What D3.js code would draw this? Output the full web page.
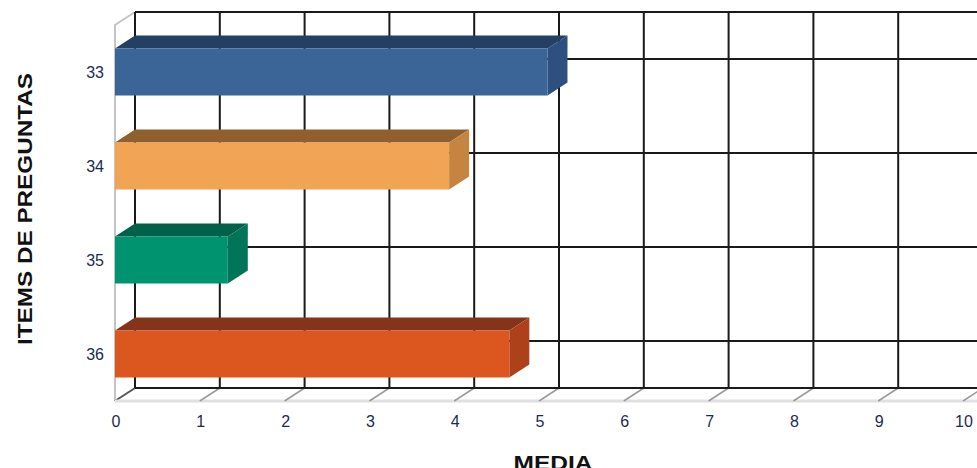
<!DOCTYPE html>
<html>
<head>
<meta charset="utf-8">
<script src="https://cdn.jsdelivr.net/npm/d3@7"></script>
<style>
body{margin:0;background:#fff;}
svg{display:block;}
text{font-family:Arial,"Liberation Sans",sans-serif;}
</style>
</head>
<body>
<svg width="977" height="468"></svg>
<script>
const categories = ['33','34','35','36'];
const values = [5.1, 3.94, 1.33, 4.65];
const xTicks = [0,1,2,3,4,5,6,7,8,9,10];
const frontColors = ['#3b6597','#f1a453','#00936f','#dc561f'];
const topColors = ['#233f62','#8f5f2f','#00614a','#83341a'];
const sideColors = ['#2d5080','#c38540','#007558','#ad421a'];

const svg = d3.select('svg');
const dx = 20, dy = -13;
const plotTop = 25, plotBottom = 401;

const xScale = d3.scaleLinear().domain([0,10]).range([115,963]);
const yScale = d3.scaleBand().domain(categories).range([plotTop,plotBottom]).paddingInner(0.5).paddingOuter(0.25);

// left wall
const wall = svg.append('g');
wall.append('path')
  .attr('d',`M${xScale(0)},${plotBottom} L${xScale(0)},${plotTop} L${xScale(0)+dx},${plotTop+dy}`)
  .attr('fill','none').attr('stroke','#c4c4c4').attr('stroke-width',2);
wall.append('line')
  .attr('x1',xScale(0)).attr('y1',plotBottom).attr('x2',xScale(0)+dx).attr('y2',plotBottom+dy)
  .attr('stroke','#555').attr('stroke-width',2);

// floor front edge
wall.append('line')
  .attr('x1',xScale(0)).attr('y1',plotBottom).attr('x2',xScale(10)+dx).attr('y2',plotBottom)
  .attr('stroke','#e0e0e0').attr('stroke-width',3);

// floor diagonals
wall.selectAll('.diag')
  .data(xTicks.slice(1))
  .enter()
  .append('line')
  .attr('x1',d=>xScale(d)).attr('y1',plotBottom)
  .attr('x2',d=>xScale(d)+dx).attr('y2',plotBottom+dy)
  .attr('stroke','#9a9a9a').attr('stroke-width',1.5);

// back wall grid
const grid = svg.append('g').attr('stroke','#1a1a1a').attr('stroke-width',2);
grid.selectAll('.vgrid')
  .data(xTicks)
  .enter()
  .append('line')
  .attr('x1',d=>xScale(d)+dx).attr('x2',d=>xScale(d)+dx)
  .attr('y1',plotTop+dy).attr('y2',plotBottom+dy);
grid.append('line')
  .attr('x1',xScale(0)+dx).attr('x2',xScale(10)+dx)
  .attr('y1',plotTop+dy).attr('y2',plotTop+dy);
grid.append('line')
  .attr('x1',xScale(0)+dx).attr('x2',xScale(10)+dx)
  .attr('y1',plotBottom+dy).attr('y2',plotBottom+dy);
grid.selectAll('.hgrid')
  .data(categories)
  .enter()
  .append('line')
  .attr('x1',xScale(0)+dx).attr('x2',xScale(10)+dx)
  .attr('y1',d=>yScale(d)+yScale.bandwidth()/2+dy)
  .attr('y2',d=>yScale(d)+yScale.bandwidth()/2+dy);

// bars
const bars = svg.selectAll('.bar')
  .data(categories.map((c,i)=>({cat:c,value:values[i],i:i})))
  .enter()
  .append('g').classed('bar',true);

bars.append('path')
  .attr('fill',d=>topColors[d.i])
  .attr('d',d=>{
    const x0=xScale(0), x1=xScale(d.value), y=yScale(d.cat);
    return `M${x0},${y} L${x1},${y} L${x1+dx},${y+dy} L${x0+dx},${y+dy} Z`;
  });
bars.append('path')
  .attr('fill',d=>sideColors[d.i])
  .attr('d',d=>{
    const x1=xScale(d.value), y=yScale(d.cat), h=yScale.bandwidth();
    return `M${x1},${y} L${x1+dx},${y+dy} L${x1+dx},${y+h+dy} L${x1},${y+h} Z`;
  });
bars.append('rect')
  .attr('fill',d=>frontColors[d.i])
  .attr('x',xScale(0))
  .attr('y',d=>yScale(d.cat))
  .attr('width',d=>xScale(d.value)-xScale(0))
  .attr('height',yScale.bandwidth());

// tick labels
svg.selectAll('.ylab')
  .data(categories)
  .enter()
  .append('text')
  .attr('x',104)
  .attr('y',d=>yScale(d)+yScale.bandwidth()/2)
  .attr('dy','0.36em')
  .attr('text-anchor','end')
  .attr('font-size',16)
  .attr('fill','#1c2b50')
  .text(d=>d);

svg.selectAll('.xlab')
  .data(xTicks)
  .enter()
  .append('text')
  .attr('x',d=>xScale(d)+1)
  .attr('y',427)
  .attr('text-anchor','middle')
  .attr('font-size',16)
  .attr('fill','#1c2b50')
  .text(d=>d);

// axis titles
svg.append('text')
  .attr('transform','translate(32,209) rotate(-90)')
  .attr('text-anchor','middle')
  .attr('font-size',20)
  .attr('font-weight','bold')
  .attr('fill','#111')
  .attr('textLength',272)
  .attr('lengthAdjust','spacingAndGlyphs')
  .text('ITEMS DE PREGUNTAS');

svg.append('text')
  .attr('x',553)
  .attr('y',470)
  .attr('text-anchor','middle')
  .attr('font-size',21)
  .attr('font-weight','bold')
  .attr('fill','#111')
  .attr('textLength',79)
  .attr('lengthAdjust','spacingAndGlyphs')
  .text('MEDIA');
</script>
</body>
</html>
